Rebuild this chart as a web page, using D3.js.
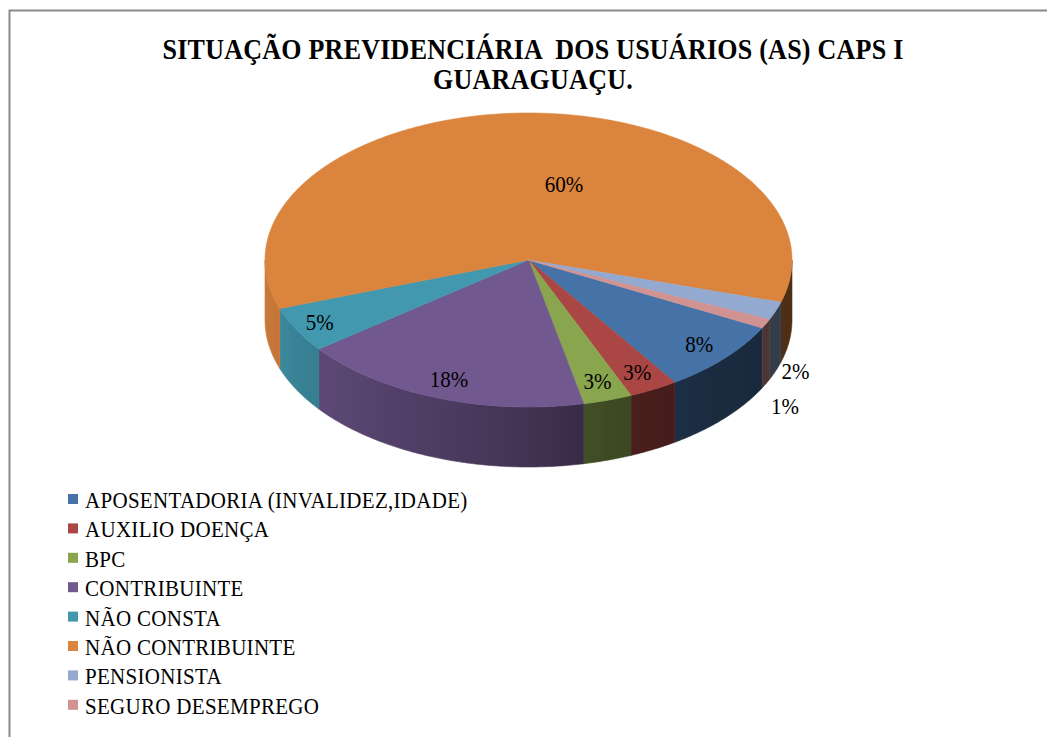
<!DOCTYPE html>
<html>
<head>
<meta charset="utf-8">
<script src="https://cdn.jsdelivr.net/npm/d3@7"></script>
<style>
  html, body { margin: 0; padding: 0; background: #fff; }
  svg { display: block; }
  text { font-family: "Liberation Serif", "Times New Roman", serif; fill: #000; }
</style>
</head>
<body>
<script>
// data
const categories = [
  "APOSENTADORIA (INVALIDEZ,IDADE)",
  "AUXILIO DOENÇA",
  "BPC",
  "CONTRIBUINTE",
  "NÃO CONSTA",
  "NÃO CONTRIBUINTE",
  "PENSIONISTA",
  "SEGURO DESEMPREGO"
]
const values = [8, 3, 3, 18, 5, 60, 2, 1]
const colors = ["#4572A7", "#AA4643", "#89A54E", "#71588F", "#4198AF", "#DB843D", "#93A9CF", "#D19392"]
const titleLines = ["SITUAÇÃO PREVIDENCIÁRIA  DOS USUÁRIOS (AS) CAPS I", "GUARAGUAÇU."]

// label placement (radius as share of the top ellipse, extra turn in degrees)
const labelFrac = [0.87, 0.87, 0.87, 0.87, 0.9, 0.53, 1.08, 1.08]
const labelTurn = [0, 0, 0, 0, 0, 16, 0, 0]

let width = 1047,
    height = 737

let svg = d3.select("body").append("svg")
    .attr("width", width)
    .attr("height", height)

// frame of the chart (left + top edges visible)
svg.append("path")
    .attr("d", "M9.5,737 L9.5,10.5 L1047,10.5")
    .attr("fill", "none")
    .attr("stroke", "#8a8a8a")
    .attr("stroke-width", 2)

// title, slightly taller than wide like the source
let title = svg.append("g")
    .attr("transform", "translate(533,0)")
titleLines.forEach((t, i) => {
    title.append("text")
        .attr("transform", `translate(0,${59 + i * 30}) scale(1,1.1)`)
        .attr("text-anchor", "middle")
        .attr("font-weight", "bold")
        .attr("font-size", 26)
        .attr("letter-spacing", 0.25)
        .style("white-space", "pre")
        .text(t)
})

// pie geometry
let cx = 528.5, cy = 260, rx = 263.5, ry = 147, depth = 60
let px = a => cx + rx * Math.sin(a)
let py = a => cy - ry * Math.cos(a)

let start = 117.5 * Math.PI / 180
let pie = d3.pie().sort(null).value(d => d)
    .startAngle(start).endAngle(start + 2 * Math.PI)
let arcs = pie(values)

// side shading: lighter on the left, dark on the right
let defs = svg.append("defs")
let shade = d3.scaleLinear()
    .domain([0, 0.1, 0.5, 0.65, 0.8, 1])
    .range([0.92, 0.82, 0.58, 0.45, 0.4, 0.35])

colors.forEach((c, i) => {
    let g = defs.append("linearGradient")
        .attr("id", "side" + i)
        .attr("gradientUnits", "userSpaceOnUse")
        .attr("x1", cx - rx).attr("x2", cx + rx)
        .attr("y1", 0).attr("y2", 0)
    let base = d3.rgb(c)
    d3.range(0, 1.0001, 0.05).forEach(t => {
        let f = shade(t)
        g.append("stop")
            .attr("offset", t)
            .attr("stop-color", d3.rgb(base.r * f, base.g * f, base.b * f).formatHex())
    })
})

let line = d3.line()

function arcPoints(a0, a1) {
    let n = Math.max(2, Math.ceil((a1 - a0) / 0.01))
    return d3.range(n + 1).map(i => {
        let a = a0 + (a1 - a0) * i / n
        return [px(a), py(a)]
    })
}

function wallPath(a0, a1) {
    let top = arcPoints(a0, a1)
    let bottom = top.slice().reverse().map(p => [p[0], p[1] + depth])
    return line(top.concat(bottom)) + "Z"
}

// walls on the front half (angles between 90 and 270 deg)
let walls = []
arcs.forEach((d, i) => {
    for (let k = -1; k <= 2; k++) {
        let lo = Math.PI / 2 + 2 * Math.PI * k
        let hi = 3 * Math.PI / 2 + 2 * Math.PI * k
        let a0 = Math.max(d.startAngle, lo)
        let a1 = Math.min(d.endAngle, hi)
        if (a1 > a0) walls.push({ i: i, a0: a0, a1: a1 })
    }
})

svg.append("g")
    .selectAll("path")
    .data(walls)
    .enter()
    .append("path")
    .attr("d", d => wallPath(d.a0, d.a1))
    .attr("fill", d => `url(#side${d.i})`)
    .attr("stroke", d => `url(#side${d.i})`)
    .attr("stroke-width", 0.6)

// top faces
svg.append("g")
    .selectAll("path")
    .data(arcs)
    .enter()
    .append("path")
    .attr("d", d => line([[cx, cy]].concat(arcPoints(d.startAngle, d.endAngle))) + "Z")
    .attr("fill", (d, i) => colors[i])
    .attr("stroke", (d, i) => colors[i])
    .attr("stroke-width", 0.6)

// data labels
let prevOut = null
let labels = arcs.map((d, i) => {
    let a = (d.startAngle + d.endAngle) / 2 + labelTurn[i] * Math.PI / 180
    let f = labelFrac[i]
    let x = cx + f * rx * Math.sin(a)
    let y = cy - f * ry * Math.cos(a)
    if (f > 1) {
        y += depth * 0.95
        if (prevOut !== null && y - prevOut < 32) y = prevOut + 35
        prevOut = y
    }
    return { x: x, y: y, t: d3.format(".0%")(d.value / d3.sum(values)) }
})

svg.append("g")
    .selectAll("text")
    .data(labels)
    .enter()
    .append("text")
    .attr("transform", d => `translate(${d.x},${d.y + 7}) scale(1,1.1)`)
    .attr("text-anchor", "middle")
    .attr("font-size", 21)
    .text(d => d.t)

// legend
let legend = svg.append("g")
    .selectAll("g")
    .data(categories)
    .enter()
    .append("g")
    .attr("transform", (d, i) => `translate(68,${508 + i * 29.4})`)

legend.append("rect")
    .attr("x", 0)
    .attr("y", -14)
    .attr("width", 10)
    .attr("height", 10)
    .attr("fill", (d, i) => colors[i])

legend.append("text")
    .attr("transform", "translate(17,0) scale(1,1.1)")
    .attr("font-size", 21)
    .attr("letter-spacing", 0.3)
    .text(d => d)
</script>
</body>
</html>
